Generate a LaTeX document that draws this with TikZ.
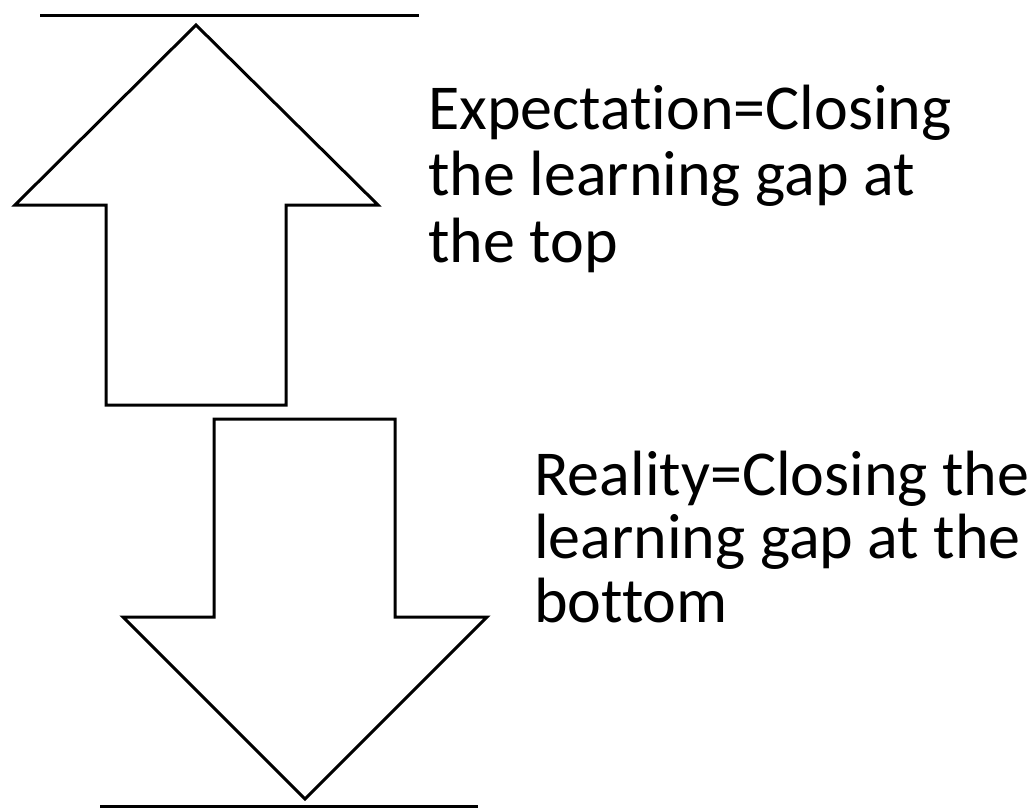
\documentclass[tikz,border=0pt]{standalone}
\usepackage{fontspec}
\setmainfont[Ligatures=NoCommon]{Carlito}
\begin{document}
\begin{tikzpicture}[x=1pt,y=-1pt,
  outline/.style={draw=black,line width=3pt,fill=white,line join=miter},
  rule/.style={draw=black,line width=3pt},
  label/.style={anchor=base west,inner sep=0pt,align=left}]
\useasboundingbox[fill=white] (0,0) rectangle (1032,808);
% top and bottom rules
\draw[rule] (40,16) -- (419,16);
\draw[rule] (100,806) -- (478,806);
% up arrow
\draw[outline] (196,25) -- (378,205) -- (286,205) -- (286,405) -- (106,405) -- (106,205) -- (15,205) -- cycle;
% down arrow
\draw[outline] (214,419) -- (395,419) -- (395,617) -- (487,617) -- (305,799) -- (123,617) -- (214,617) -- cycle;
% labels
\node[label,font=\fontsize{64}{66.5}\selectfont] (exp) at (428,262) {Expectation=Closing\\the learning gap at\\the top};
\node[label,font=\fontsize{64}{63.5}\selectfont] (real) at (534,622) {Reality=Closing the\\learning gap at the\\bottom};
\end{tikzpicture}
\end{document}
